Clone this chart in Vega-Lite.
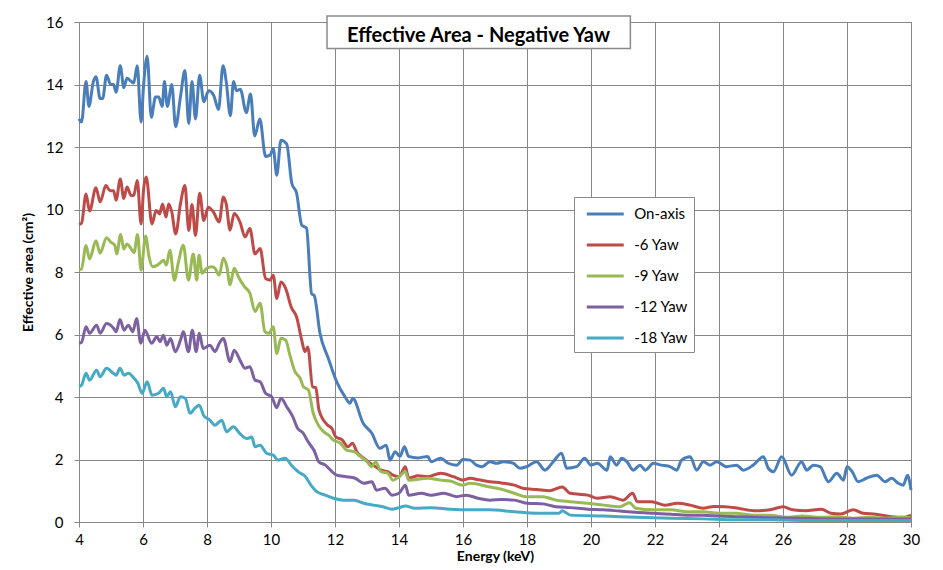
{
"$schema": "https://vega.github.io/schema/vega-lite/v6.json",
"width": 832, "height": 500,
"autosize": {"type": "none"},
"padding": {"left": 79, "top": 22, "right": 32, "bottom": 48},
"background": "white",
"config": {"view": {"stroke": "#878787", "strokeWidth": 1}, "font": "Lato"},
"title": {"text": "Effective Area - Negative Yaw", "anchor": "middle", "frame": "group", "orient": "top", "offset": -31, "dx": -16.5, "fontSize": 20, "font": "Lato", "fontWeight": "bold", "color": "black"},
"layer": [
{
"data": {"values": [{}]},
"mark": {"type": "rect", "fill": "white", "stroke": "#8a8a8a", "strokeWidth": 1.5},
"encoding": {
"x": {"datum": 11.75, "type": "quantitative", "title": "Energy (keV)"},
"x2": {"datum": 21.23},
"y": {"datum": 16.19, "type": "quantitative", "title": "Effective area (cm²)"},
"y2": {"datum": 15.15}
}
},
{
"data": {"values": [
{"s":"On-axis","e":4.0,"v":12.9},{"s":"On-axis","e":4.08,"v":12.8},{"s":"On-axis","e":4.22,"v":14.1},{"s":"On-axis","e":4.31,"v":13.3},{"s":"On-axis","e":4.45,"v":14.1},{"s":"On-axis","e":4.53,"v":14.25},{"s":"On-axis","e":4.66,"v":13.55},{"s":"On-axis","e":4.74,"v":13.55},{"s":"On-axis","e":4.86,"v":14.3},{"s":"On-axis","e":4.99,"v":14.0},{"s":"On-axis","e":5.08,"v":14.0},{"s":"On-axis","e":5.16,"v":13.75},{"s":"On-axis","e":5.29,"v":14.6},{"s":"On-axis","e":5.4,"v":13.9},{"s":"On-axis","e":5.5,"v":14.2},{"s":"On-axis","e":5.63,"v":14.1},{"s":"On-axis","e":5.71,"v":14.05},{"s":"On-axis","e":5.82,"v":14.6},{"s":"On-axis","e":5.94,"v":12.8},{"s":"On-axis","e":6.02,"v":14.0},{"s":"On-axis","e":6.13,"v":14.9},{"s":"On-axis","e":6.26,"v":12.95},{"s":"On-axis","e":6.39,"v":13.6},{"s":"On-axis","e":6.49,"v":13.6},{"s":"On-axis","e":6.6,"v":13.3},{"s":"On-axis","e":6.67,"v":14.1},{"s":"On-axis","e":6.76,"v":13.3},{"s":"On-axis","e":6.9,"v":14.0},{"s":"On-axis","e":7.02,"v":12.65},{"s":"On-axis","e":7.17,"v":13.6},{"s":"On-axis","e":7.31,"v":14.45},{"s":"On-axis","e":7.43,"v":12.75},{"s":"On-axis","e":7.53,"v":14.1},{"s":"On-axis","e":7.64,"v":12.9},{"s":"On-axis","e":7.77,"v":14.3},{"s":"On-axis","e":7.9,"v":13.45},{"s":"On-axis","e":8.05,"v":13.8},{"s":"On-axis","e":8.21,"v":13.65},{"s":"On-axis","e":8.36,"v":13.2},{"s":"On-axis","e":8.5,"v":14.6},{"s":"On-axis","e":8.6,"v":14.1},{"s":"On-axis","e":8.73,"v":13.0},{"s":"On-axis","e":8.83,"v":14.1},{"s":"On-axis","e":8.92,"v":13.8},{"s":"On-axis","e":9.04,"v":13.85},{"s":"On-axis","e":9.23,"v":13.1},{"s":"On-axis","e":9.36,"v":13.7},{"s":"On-axis","e":9.49,"v":12.35},{"s":"On-axis","e":9.65,"v":12.9},{"s":"On-axis","e":9.83,"v":11.7},{"s":"On-axis","e":9.97,"v":11.74},{"s":"On-axis","e":10.07,"v":11.95},{"s":"On-axis","e":10.18,"v":11.1},{"s":"On-axis","e":10.31,"v":12.22},{"s":"On-axis","e":10.49,"v":12.1},{"s":"On-axis","e":10.65,"v":10.84},{"s":"On-axis","e":10.8,"v":10.52},{"s":"On-axis","e":10.96,"v":9.5},{"s":"On-axis","e":11.11,"v":9.4},{"s":"On-axis","e":11.27,"v":7.3},{"s":"On-axis","e":11.35,"v":7.25},{"s":"On-axis","e":11.53,"v":6.04},{"s":"On-axis","e":11.79,"v":5.24},{"s":"On-axis","e":12.05,"v":4.49},{"s":"On-axis","e":12.31,"v":4.01},{"s":"On-axis","e":12.47,"v":3.8},{"s":"On-axis","e":12.55,"v":3.96},{"s":"On-axis","e":12.88,"v":3.16},{"s":"On-axis","e":13.15,"v":2.84},{"s":"On-axis","e":13.4,"v":2.36},{"s":"On-axis","e":13.6,"v":2.46},{"s":"On-axis","e":13.72,"v":1.98},{"s":"On-axis","e":13.88,"v":2.25},{"s":"On-axis","e":14.03,"v":2.1},{"s":"On-axis","e":14.17,"v":2.41},{"s":"On-axis","e":14.3,"v":2.1},{"s":"On-axis","e":14.6,"v":2.05},{"s":"On-axis","e":14.9,"v":2.1},{"s":"On-axis","e":15.0,"v":1.93},{"s":"On-axis","e":15.3,"v":2.04},{"s":"On-axis","e":15.54,"v":1.88},{"s":"On-axis","e":15.8,"v":1.82},{"s":"On-axis","e":16.0,"v":2.0},{"s":"On-axis","e":16.22,"v":1.98},{"s":"On-axis","e":16.42,"v":1.82},{"s":"On-axis","e":16.6,"v":1.77},{"s":"On-axis","e":16.84,"v":1.93},{"s":"On-axis","e":17.05,"v":1.88},{"s":"On-axis","e":17.26,"v":1.93},{"s":"On-axis","e":17.57,"v":1.88},{"s":"On-axis","e":17.78,"v":1.72},{"s":"On-axis","e":17.99,"v":1.77},{"s":"On-axis","e":18.3,"v":1.93},{"s":"On-axis","e":18.56,"v":1.66},{"s":"On-axis","e":18.82,"v":1.93},{"s":"On-axis","e":19.08,"v":2.2},{"s":"On-axis","e":19.24,"v":1.72},{"s":"On-axis","e":19.55,"v":1.77},{"s":"On-axis","e":19.8,"v":2.04},{"s":"On-axis","e":20.0,"v":1.82},{"s":"On-axis","e":20.2,"v":1.88},{"s":"On-axis","e":20.5,"v":1.66},{"s":"On-axis","e":20.6,"v":2.09},{"s":"On-axis","e":20.8,"v":1.82},{"s":"On-axis","e":20.96,"v":2.04},{"s":"On-axis","e":21.12,"v":1.93},{"s":"On-axis","e":21.32,"v":1.66},{"s":"On-axis","e":21.53,"v":1.82},{"s":"On-axis","e":21.7,"v":1.66},{"s":"On-axis","e":21.95,"v":1.88},{"s":"On-axis","e":22.2,"v":1.82},{"s":"On-axis","e":22.47,"v":1.77},{"s":"On-axis","e":22.68,"v":1.66},{"s":"On-axis","e":22.83,"v":1.98},{"s":"On-axis","e":23.1,"v":2.09},{"s":"On-axis","e":23.3,"v":1.66},{"s":"On-axis","e":23.51,"v":1.93},{"s":"On-axis","e":23.72,"v":1.82},{"s":"On-axis","e":23.93,"v":1.93},{"s":"On-axis","e":24.24,"v":1.77},{"s":"On-axis","e":24.55,"v":1.82},{"s":"On-axis","e":24.76,"v":1.66},{"s":"On-axis","e":25.07,"v":1.82},{"s":"On-axis","e":25.39,"v":2.09},{"s":"On-axis","e":25.54,"v":1.72},{"s":"On-axis","e":25.7,"v":1.61},{"s":"On-axis","e":25.96,"v":2.09},{"s":"On-axis","e":26.27,"v":1.5},{"s":"On-axis","e":26.58,"v":1.93},{"s":"On-axis","e":26.74,"v":1.66},{"s":"On-axis","e":26.95,"v":1.82},{"s":"On-axis","e":27.16,"v":1.77},{"s":"On-axis","e":27.42,"v":1.29},{"s":"On-axis","e":27.68,"v":1.56},{"s":"On-axis","e":27.89,"v":1.34},{"s":"On-axis","e":28.0,"v":1.77},{"s":"On-axis","e":28.16,"v":1.61},{"s":"On-axis","e":28.35,"v":1.29},{"s":"On-axis","e":28.61,"v":1.4},{"s":"On-axis","e":28.93,"v":1.5},{"s":"On-axis","e":29.19,"v":1.29},{"s":"On-axis","e":29.4,"v":1.4},{"s":"On-axis","e":29.6,"v":1.24},{"s":"On-axis","e":29.76,"v":1.18},{"s":"On-axis","e":29.89,"v":1.5},{"s":"On-axis","e":30.0,"v":1.02},
{"s":"-6 Yaw","e":4.0,"v":9.52},{"s":"-6 Yaw","e":4.08,"v":9.56},{"s":"-6 Yaw","e":4.22,"v":10.5},{"s":"-6 Yaw","e":4.33,"v":9.95},{"s":"-6 Yaw","e":4.53,"v":10.7},{"s":"-6 Yaw","e":4.66,"v":10.24},{"s":"-6 Yaw","e":4.84,"v":10.77},{"s":"-6 Yaw","e":4.97,"v":10.6},{"s":"-6 Yaw","e":5.08,"v":10.6},{"s":"-6 Yaw","e":5.16,"v":10.3},{"s":"-6 Yaw","e":5.29,"v":10.98},{"s":"-6 Yaw","e":5.4,"v":10.35},{"s":"-6 Yaw","e":5.5,"v":10.72},{"s":"-6 Yaw","e":5.63,"v":10.45},{"s":"-6 Yaw","e":5.71,"v":10.45},{"s":"-6 Yaw","e":5.82,"v":10.93},{"s":"-6 Yaw","e":5.94,"v":9.54},{"s":"-6 Yaw","e":6.02,"v":10.66},{"s":"-6 Yaw","e":6.1,"v":11.04},{"s":"-6 Yaw","e":6.28,"v":9.54},{"s":"-6 Yaw","e":6.41,"v":9.97},{"s":"-6 Yaw","e":6.52,"v":9.86},{"s":"-6 Yaw","e":6.61,"v":10.18},{"s":"-6 Yaw","e":6.72,"v":9.76},{"s":"-6 Yaw","e":6.8,"v":10.18},{"s":"-6 Yaw","e":6.9,"v":9.92},{"s":"-6 Yaw","e":7.02,"v":9.22},{"s":"-6 Yaw","e":7.17,"v":10.18},{"s":"-6 Yaw","e":7.31,"v":10.77},{"s":"-6 Yaw","e":7.43,"v":9.33},{"s":"-6 Yaw","e":7.53,"v":10.16},{"s":"-6 Yaw","e":7.64,"v":9.17},{"s":"-6 Yaw","e":7.77,"v":10.52},{"s":"-6 Yaw","e":7.9,"v":9.65},{"s":"-6 Yaw","e":8.04,"v":10.07},{"s":"-6 Yaw","e":8.2,"v":9.92},{"s":"-6 Yaw","e":8.38,"v":9.6},{"s":"-6 Yaw","e":8.51,"v":10.4},{"s":"-6 Yaw","e":8.6,"v":10.18},{"s":"-6 Yaw","e":8.72,"v":9.34},{"s":"-6 Yaw","e":8.85,"v":9.87},{"s":"-6 Yaw","e":9.03,"v":9.6},{"s":"-6 Yaw","e":9.19,"v":9.12},{"s":"-6 Yaw","e":9.34,"v":9.39},{"s":"-6 Yaw","e":9.5,"v":8.58},{"s":"-6 Yaw","e":9.66,"v":8.75},{"s":"-6 Yaw","e":9.83,"v":7.79},{"s":"-6 Yaw","e":9.97,"v":7.74},{"s":"-6 Yaw","e":10.07,"v":7.9},{"s":"-6 Yaw","e":10.18,"v":7.15},{"s":"-6 Yaw","e":10.31,"v":7.68},{"s":"-6 Yaw","e":10.46,"v":7.47},{"s":"-6 Yaw","e":10.63,"v":6.88},{"s":"-6 Yaw","e":10.8,"v":6.56},{"s":"-6 Yaw","e":10.96,"v":5.82},{"s":"-6 Yaw","e":11.06,"v":5.45},{"s":"-6 Yaw","e":11.15,"v":5.6},{"s":"-6 Yaw","e":11.3,"v":4.33},{"s":"-6 Yaw","e":11.4,"v":4.3},{"s":"-6 Yaw","e":11.5,"v":3.58},{"s":"-6 Yaw","e":11.77,"v":3.1},{"s":"-6 Yaw","e":11.9,"v":3.0},{"s":"-6 Yaw","e":12.02,"v":2.73},{"s":"-6 Yaw","e":12.23,"v":2.62},{"s":"-6 Yaw","e":12.4,"v":2.41},{"s":"-6 Yaw","e":12.55,"v":2.52},{"s":"-6 Yaw","e":12.68,"v":2.25},{"s":"-6 Yaw","e":12.9,"v":2.04},{"s":"-6 Yaw","e":13.1,"v":1.88},{"s":"-6 Yaw","e":13.27,"v":1.77},{"s":"-6 Yaw","e":13.44,"v":1.66},{"s":"-6 Yaw","e":13.65,"v":1.61},{"s":"-6 Yaw","e":13.81,"v":1.5},{"s":"-6 Yaw","e":14.0,"v":1.45},{"s":"-6 Yaw","e":14.2,"v":1.77},{"s":"-6 Yaw","e":14.3,"v":1.4},{"s":"-6 Yaw","e":14.6,"v":1.48},{"s":"-6 Yaw","e":14.9,"v":1.45},{"s":"-6 Yaw","e":15.3,"v":1.56},{"s":"-6 Yaw","e":15.7,"v":1.45},{"s":"-6 Yaw","e":16.0,"v":1.34},{"s":"-6 Yaw","e":16.22,"v":1.4},{"s":"-6 Yaw","e":16.5,"v":1.35},{"s":"-6 Yaw","e":16.84,"v":1.29},{"s":"-6 Yaw","e":17.2,"v":1.25},{"s":"-6 Yaw","e":17.6,"v":1.18},{"s":"-6 Yaw","e":17.9,"v":1.07},{"s":"-6 Yaw","e":18.3,"v":1.04},{"s":"-6 Yaw","e":18.7,"v":1.0},{"s":"-6 Yaw","e":19.1,"v":1.12},{"s":"-6 Yaw","e":19.35,"v":0.92},{"s":"-6 Yaw","e":19.9,"v":0.86},{"s":"-6 Yaw","e":20.2,"v":0.76},{"s":"-6 Yaw","e":20.6,"v":0.81},{"s":"-6 Yaw","e":21.0,"v":0.7},{"s":"-6 Yaw","e":21.3,"v":0.92},{"s":"-6 Yaw","e":21.45,"v":0.65},{"s":"-6 Yaw","e":21.9,"v":0.65},{"s":"-6 Yaw","e":22.3,"v":0.54},{"s":"-6 Yaw","e":22.7,"v":0.6},{"s":"-6 Yaw","e":23.1,"v":0.54},{"s":"-6 Yaw","e":23.5,"v":0.44},{"s":"-6 Yaw","e":23.85,"v":0.5},{"s":"-6 Yaw","e":24.2,"v":0.49},{"s":"-6 Yaw","e":24.6,"v":0.44},{"s":"-6 Yaw","e":25.1,"v":0.36},{"s":"-6 Yaw","e":25.6,"v":0.39},{"s":"-6 Yaw","e":26.0,"v":0.49},{"s":"-6 Yaw","e":26.3,"v":0.39},{"s":"-6 Yaw","e":26.7,"v":0.36},{"s":"-6 Yaw","e":27.2,"v":0.41},{"s":"-6 Yaw","e":27.5,"v":0.28},{"s":"-6 Yaw","e":27.8,"v":0.26},{"s":"-6 Yaw","e":28.2,"v":0.39},{"s":"-6 Yaw","e":28.5,"v":0.28},{"s":"-6 Yaw","e":28.9,"v":0.25},{"s":"-6 Yaw","e":29.4,"v":0.17},{"s":"-6 Yaw","e":29.8,"v":0.15},{"s":"-6 Yaw","e":30.0,"v":0.22},
{"s":"-9 Yaw","e":4.0,"v":8.07},{"s":"-9 Yaw","e":4.08,"v":8.1},{"s":"-9 Yaw","e":4.22,"v":8.85},{"s":"-9 Yaw","e":4.33,"v":8.42},{"s":"-9 Yaw","e":4.53,"v":9.0},{"s":"-9 Yaw","e":4.66,"v":8.6},{"s":"-9 Yaw","e":4.86,"v":9.1},{"s":"-9 Yaw","e":4.99,"v":8.96},{"s":"-9 Yaw","e":5.12,"v":8.85},{"s":"-9 Yaw","e":5.18,"v":8.58},{"s":"-9 Yaw","e":5.3,"v":9.2},{"s":"-9 Yaw","e":5.4,"v":8.74},{"s":"-9 Yaw","e":5.5,"v":8.9},{"s":"-9 Yaw","e":5.63,"v":8.74},{"s":"-9 Yaw","e":5.72,"v":8.62},{"s":"-9 Yaw","e":5.83,"v":9.2},{"s":"-9 Yaw","e":5.94,"v":8.06},{"s":"-9 Yaw","e":6.08,"v":9.15},{"s":"-9 Yaw","e":6.19,"v":8.48},{"s":"-9 Yaw","e":6.3,"v":8.17},{"s":"-9 Yaw","e":6.45,"v":8.22},{"s":"-9 Yaw","e":6.55,"v":8.3},{"s":"-9 Yaw","e":6.64,"v":8.38},{"s":"-9 Yaw","e":6.73,"v":8.22},{"s":"-9 Yaw","e":6.84,"v":8.7},{"s":"-9 Yaw","e":6.98,"v":7.74},{"s":"-9 Yaw","e":7.1,"v":8.28},{"s":"-9 Yaw","e":7.26,"v":8.86},{"s":"-9 Yaw","e":7.42,"v":7.74},{"s":"-9 Yaw","e":7.57,"v":8.58},{"s":"-9 Yaw","e":7.68,"v":7.74},{"s":"-9 Yaw","e":7.75,"v":8.54},{"s":"-9 Yaw","e":7.85,"v":7.96},{"s":"-9 Yaw","e":7.99,"v":8.12},{"s":"-9 Yaw","e":8.15,"v":8.17},{"s":"-9 Yaw","e":8.25,"v":8.12},{"s":"-9 Yaw","e":8.38,"v":7.9},{"s":"-9 Yaw","e":8.51,"v":8.44},{"s":"-9 Yaw","e":8.62,"v":8.17},{"s":"-9 Yaw","e":8.72,"v":7.59},{"s":"-9 Yaw","e":8.85,"v":8.12},{"s":"-9 Yaw","e":8.98,"v":7.85},{"s":"-9 Yaw","e":9.17,"v":7.53},{"s":"-9 Yaw","e":9.34,"v":7.32},{"s":"-9 Yaw","e":9.5,"v":6.74},{"s":"-9 Yaw","e":9.66,"v":7.0},{"s":"-9 Yaw","e":9.81,"v":6.09},{"s":"-9 Yaw","e":9.94,"v":6.04},{"s":"-9 Yaw","e":10.07,"v":6.25},{"s":"-9 Yaw","e":10.18,"v":5.39},{"s":"-9 Yaw","e":10.31,"v":5.88},{"s":"-9 Yaw","e":10.46,"v":5.82},{"s":"-9 Yaw","e":10.59,"v":5.34},{"s":"-9 Yaw","e":10.75,"v":4.81},{"s":"-9 Yaw","e":10.91,"v":4.6},{"s":"-9 Yaw","e":11.01,"v":4.33},{"s":"-9 Yaw","e":11.17,"v":4.22},{"s":"-9 Yaw","e":11.32,"v":3.48},{"s":"-9 Yaw","e":11.48,"v":3.1},{"s":"-9 Yaw","e":11.64,"v":2.89},{"s":"-9 Yaw","e":11.8,"v":2.78},{"s":"-9 Yaw","e":11.95,"v":2.62},{"s":"-9 Yaw","e":12.17,"v":2.52},{"s":"-9 Yaw","e":12.36,"v":2.3},{"s":"-9 Yaw","e":12.6,"v":2.25},{"s":"-9 Yaw","e":12.8,"v":2.09},{"s":"-9 Yaw","e":13.0,"v":1.93},{"s":"-9 Yaw","e":13.15,"v":1.77},{"s":"-9 Yaw","e":13.27,"v":1.93},{"s":"-9 Yaw","e":13.44,"v":1.61},{"s":"-9 Yaw","e":13.65,"v":1.56},{"s":"-9 Yaw","e":13.81,"v":1.34},{"s":"-9 Yaw","e":14.0,"v":1.45},{"s":"-9 Yaw","e":14.2,"v":1.61},{"s":"-9 Yaw","e":14.3,"v":1.34},{"s":"-9 Yaw","e":14.9,"v":1.4},{"s":"-9 Yaw","e":15.3,"v":1.34},{"s":"-9 Yaw","e":15.6,"v":1.31},{"s":"-9 Yaw","e":16.0,"v":1.18},{"s":"-9 Yaw","e":16.22,"v":1.24},{"s":"-9 Yaw","e":16.84,"v":1.12},{"s":"-9 Yaw","e":17.2,"v":1.05},{"s":"-9 Yaw","e":17.6,"v":0.92},{"s":"-9 Yaw","e":18.0,"v":0.81},{"s":"-9 Yaw","e":18.5,"v":0.81},{"s":"-9 Yaw","e":18.9,"v":0.7},{"s":"-9 Yaw","e":19.35,"v":0.65},{"s":"-9 Yaw","e":19.9,"v":0.6},{"s":"-9 Yaw","e":20.4,"v":0.54},{"s":"-9 Yaw","e":20.9,"v":0.49},{"s":"-9 Yaw","e":21.2,"v":0.62},{"s":"-9 Yaw","e":21.4,"v":0.44},{"s":"-9 Yaw","e":21.95,"v":0.39},{"s":"-9 Yaw","e":22.5,"v":0.39},{"s":"-9 Yaw","e":23.0,"v":0.33},{"s":"-9 Yaw","e":23.5,"v":0.33},{"s":"-9 Yaw","e":24.0,"v":0.28},{"s":"-9 Yaw","e":24.5,"v":0.28},{"s":"-9 Yaw","e":25.1,"v":0.22},{"s":"-9 Yaw","e":25.6,"v":0.22},{"s":"-9 Yaw","e":26.1,"v":0.15},{"s":"-9 Yaw","e":26.6,"v":0.19},{"s":"-9 Yaw","e":27.2,"v":0.15},{"s":"-9 Yaw","e":27.7,"v":0.17},{"s":"-9 Yaw","e":28.2,"v":0.12},{"s":"-9 Yaw","e":28.7,"v":0.15},{"s":"-9 Yaw","e":29.2,"v":0.12},{"s":"-9 Yaw","e":29.7,"v":0.15},{"s":"-9 Yaw","e":30.0,"v":0.14},
{"s":"-12 Yaw","e":4.0,"v":5.72},{"s":"-12 Yaw","e":4.08,"v":5.75},{"s":"-12 Yaw","e":4.22,"v":6.25},{"s":"-12 Yaw","e":4.33,"v":6.04},{"s":"-12 Yaw","e":4.55,"v":6.3},{"s":"-12 Yaw","e":4.66,"v":6.04},{"s":"-12 Yaw","e":4.86,"v":6.35},{"s":"-12 Yaw","e":5.08,"v":6.2},{"s":"-12 Yaw","e":5.16,"v":6.09},{"s":"-12 Yaw","e":5.28,"v":6.48},{"s":"-12 Yaw","e":5.41,"v":6.14},{"s":"-12 Yaw","e":5.54,"v":6.3},{"s":"-12 Yaw","e":5.68,"v":6.09},{"s":"-12 Yaw","e":5.8,"v":6.51},{"s":"-12 Yaw","e":5.93,"v":5.72},{"s":"-12 Yaw","e":6.06,"v":6.14},{"s":"-12 Yaw","e":6.27,"v":5.72},{"s":"-12 Yaw","e":6.43,"v":5.93},{"s":"-12 Yaw","e":6.53,"v":5.77},{"s":"-12 Yaw","e":6.64,"v":5.98},{"s":"-12 Yaw","e":6.74,"v":5.66},{"s":"-12 Yaw","e":6.86,"v":5.87},{"s":"-12 Yaw","e":7.01,"v":5.45},{"s":"-12 Yaw","e":7.17,"v":5.82},{"s":"-12 Yaw","e":7.26,"v":6.09},{"s":"-12 Yaw","e":7.42,"v":5.45},{"s":"-12 Yaw","e":7.54,"v":6.14},{"s":"-12 Yaw","e":7.66,"v":5.45},{"s":"-12 Yaw","e":7.76,"v":6.04},{"s":"-12 Yaw","e":7.88,"v":5.55},{"s":"-12 Yaw","e":8.09,"v":5.66},{"s":"-12 Yaw","e":8.25,"v":5.45},{"s":"-12 Yaw","e":8.38,"v":5.71},{"s":"-12 Yaw","e":8.51,"v":5.87},{"s":"-12 Yaw","e":8.72,"v":5.13},{"s":"-12 Yaw","e":8.85,"v":5.5},{"s":"-12 Yaw","e":9.03,"v":5.18},{"s":"-12 Yaw","e":9.19,"v":4.92},{"s":"-12 Yaw","e":9.34,"v":4.97},{"s":"-12 Yaw","e":9.5,"v":4.54},{"s":"-12 Yaw","e":9.66,"v":4.49},{"s":"-12 Yaw","e":9.83,"v":4.12},{"s":"-12 Yaw","e":10.02,"v":4.01},{"s":"-12 Yaw","e":10.18,"v":3.66},{"s":"-12 Yaw","e":10.31,"v":3.96},{"s":"-12 Yaw","e":10.49,"v":3.69},{"s":"-12 Yaw","e":10.68,"v":3.37},{"s":"-12 Yaw","e":10.83,"v":3.0},{"s":"-12 Yaw","e":11.0,"v":2.85},{"s":"-12 Yaw","e":11.17,"v":2.55},{"s":"-12 Yaw","e":11.35,"v":2.28},{"s":"-12 Yaw","e":11.49,"v":1.93},{"s":"-12 Yaw","e":11.7,"v":1.82},{"s":"-12 Yaw","e":11.86,"v":1.66},{"s":"-12 Yaw","e":12.05,"v":1.5},{"s":"-12 Yaw","e":12.36,"v":1.45},{"s":"-12 Yaw","e":12.63,"v":1.4},{"s":"-12 Yaw","e":12.9,"v":1.24},{"s":"-12 Yaw","e":13.15,"v":1.29},{"s":"-12 Yaw","e":13.3,"v":1.02},{"s":"-12 Yaw","e":13.56,"v":1.08},{"s":"-12 Yaw","e":13.78,"v":0.86},{"s":"-12 Yaw","e":14.0,"v":0.92},{"s":"-12 Yaw","e":14.2,"v":1.18},{"s":"-12 Yaw","e":14.3,"v":0.86},{"s":"-12 Yaw","e":14.7,"v":0.92},{"s":"-12 Yaw","e":15.0,"v":0.86},{"s":"-12 Yaw","e":15.4,"v":0.92},{"s":"-12 Yaw","e":15.8,"v":0.81},{"s":"-12 Yaw","e":16.1,"v":0.86},{"s":"-12 Yaw","e":16.5,"v":0.75},{"s":"-12 Yaw","e":16.84,"v":0.7},{"s":"-12 Yaw","e":17.2,"v":0.72},{"s":"-12 Yaw","e":17.6,"v":0.7},{"s":"-12 Yaw","e":18.0,"v":0.6},{"s":"-12 Yaw","e":18.5,"v":0.58},{"s":"-12 Yaw","e":18.9,"v":0.49},{"s":"-12 Yaw","e":19.35,"v":0.46},{"s":"-12 Yaw","e":19.9,"v":0.41},{"s":"-12 Yaw","e":20.4,"v":0.39},{"s":"-12 Yaw","e":20.9,"v":0.35},{"s":"-12 Yaw","e":21.4,"v":0.31},{"s":"-12 Yaw","e":21.95,"v":0.28},{"s":"-12 Yaw","e":22.5,"v":0.25},{"s":"-12 Yaw","e":23.0,"v":0.22},{"s":"-12 Yaw","e":23.5,"v":0.22},{"s":"-12 Yaw","e":24.0,"v":0.19},{"s":"-12 Yaw","e":24.55,"v":0.17},{"s":"-12 Yaw","e":25.1,"v":0.15},{"s":"-12 Yaw","e":25.6,"v":0.14},{"s":"-12 Yaw","e":26.6,"v":0.12},{"s":"-12 Yaw","e":27.6,"v":0.1},{"s":"-12 Yaw","e":28.6,"v":0.1},{"s":"-12 Yaw","e":30.0,"v":0.1},
{"s":"-18 Yaw","e":4.0,"v":4.33},{"s":"-18 Yaw","e":4.08,"v":4.38},{"s":"-18 Yaw","e":4.22,"v":4.76},{"s":"-18 Yaw","e":4.33,"v":4.54},{"s":"-18 Yaw","e":4.55,"v":4.86},{"s":"-18 Yaw","e":4.66,"v":4.65},{"s":"-18 Yaw","e":4.86,"v":4.92},{"s":"-18 Yaw","e":5.07,"v":4.76},{"s":"-18 Yaw","e":5.16,"v":4.7},{"s":"-18 Yaw","e":5.28,"v":4.92},{"s":"-18 Yaw","e":5.41,"v":4.7},{"s":"-18 Yaw","e":5.54,"v":4.76},{"s":"-18 Yaw","e":5.72,"v":4.6},{"s":"-18 Yaw","e":5.84,"v":4.44},{"s":"-18 Yaw","e":5.97,"v":4.12},{"s":"-18 Yaw","e":6.13,"v":4.49},{"s":"-18 Yaw","e":6.28,"v":4.06},{"s":"-18 Yaw","e":6.49,"v":4.12},{"s":"-18 Yaw","e":6.64,"v":4.28},{"s":"-18 Yaw","e":6.74,"v":4.01},{"s":"-18 Yaw","e":6.86,"v":4.17},{"s":"-18 Yaw","e":7.01,"v":3.69},{"s":"-18 Yaw","e":7.17,"v":4.01},{"s":"-18 Yaw","e":7.32,"v":3.96},{"s":"-18 Yaw","e":7.47,"v":3.48},{"s":"-18 Yaw","e":7.63,"v":3.65},{"s":"-18 Yaw","e":7.76,"v":3.74},{"s":"-18 Yaw","e":7.9,"v":3.4},{"s":"-18 Yaw","e":8.09,"v":3.26},{"s":"-18 Yaw","e":8.25,"v":3.1},{"s":"-18 Yaw","e":8.46,"v":3.26},{"s":"-18 Yaw","e":8.61,"v":2.89},{"s":"-18 Yaw","e":8.82,"v":3.05},{"s":"-18 Yaw","e":9.03,"v":2.83},{"s":"-18 Yaw","e":9.24,"v":2.67},{"s":"-18 Yaw","e":9.4,"v":2.72},{"s":"-18 Yaw","e":9.5,"v":2.41},{"s":"-18 Yaw","e":9.66,"v":2.46},{"s":"-18 Yaw","e":9.86,"v":2.2},{"s":"-18 Yaw","e":10.07,"v":2.14},{"s":"-18 Yaw","e":10.23,"v":1.98},{"s":"-18 Yaw","e":10.44,"v":2.04},{"s":"-18 Yaw","e":10.65,"v":1.8},{"s":"-18 Yaw","e":10.86,"v":1.6},{"s":"-18 Yaw","e":11.06,"v":1.47},{"s":"-18 Yaw","e":11.27,"v":1.15},{"s":"-18 Yaw","e":11.43,"v":0.97},{"s":"-18 Yaw","e":11.7,"v":0.86},{"s":"-18 Yaw","e":11.95,"v":0.76},{"s":"-18 Yaw","e":12.27,"v":0.7},{"s":"-18 Yaw","e":12.6,"v":0.7},{"s":"-18 Yaw","e":12.9,"v":0.6},{"s":"-18 Yaw","e":13.2,"v":0.54},{"s":"-18 Yaw","e":13.5,"v":0.49},{"s":"-18 Yaw","e":13.78,"v":0.41},{"s":"-18 Yaw","e":14.0,"v":0.46},{"s":"-18 Yaw","e":14.2,"v":0.51},{"s":"-18 Yaw","e":14.5,"v":0.44},{"s":"-18 Yaw","e":15.0,"v":0.46},{"s":"-18 Yaw","e":15.6,"v":0.41},{"s":"-18 Yaw","e":16.1,"v":0.39},{"s":"-18 Yaw","e":16.8,"v":0.39},{"s":"-18 Yaw","e":17.6,"v":0.33},{"s":"-18 Yaw","e":18.3,"v":0.28},{"s":"-18 Yaw","e":19.0,"v":0.28},{"s":"-18 Yaw","e":19.1,"v":0.36},{"s":"-18 Yaw","e":19.35,"v":0.22},{"s":"-18 Yaw","e":20.4,"v":0.19},{"s":"-18 Yaw","e":21.4,"v":0.15},{"s":"-18 Yaw","e":22.5,"v":0.12},{"s":"-18 Yaw","e":23.5,"v":0.1},{"s":"-18 Yaw","e":24.55,"v":0.07},{"s":"-18 Yaw","e":25.6,"v":0.07},{"s":"-18 Yaw","e":26.6,"v":0.05},{"s":"-18 Yaw","e":28.0,"v":0.05},{"s":"-18 Yaw","e":30.0,"v":0.05}
]},
"mark": {"type": "line", "strokeWidth": 3, "strokeJoin": "round", "interpolate": "monotone"},
"encoding": {
"x": {"field": "e", "type": "quantitative", "title": "Energy (keV)",
"scale": {"domain": [4, 30], "nice": false, "zero": false},
"axis": {"values": [4,6,8,10,12,14,16,18,20,22,24,26,28,30], "grid": true, "gridColor": "#878787", "gridWidth": 1, "domainColor": "#878787", "tickColor": "#878787", "tickSize": 5, "labelFlush": false, "labelFont": "Lato", "labelFontSize": 15, "labelColor": "black", "labelPadding": 5, "titleFont": "Lato", "titleFontSize": 14, "titleFontWeight": "bold", "titleColor": "black", "titlePadding": 2}},
"y": {"field": "v", "type": "quantitative", "title": "Effective area (cm²)",
"scale": {"domain": [0, 16], "nice": false},
"axis": {"values": [0,2,4,6,8,10,12,14,16], "grid": true, "gridColor": "#878787", "gridWidth": 1, "domainColor": "#878787", "tickColor": "#878787", "tickSize": 5, "labelFont": "Lato", "labelFontSize": 15, "labelColor": "black", "labelPadding": 11, "titleFont": "Lato", "titleFontSize": 14, "titleFontWeight": "bold", "titleColor": "black", "titlePadding": 10}},
"color": {"field": "s", "type": "nominal",
"scale": {"domain": ["On-axis", "-6 Yaw", "-9 Yaw", "-12 Yaw", "-18 Yaw"], "range": ["#4A7EBB", "#BE4B48", "#98B954", "#7D60A0", "#46AAC5"]},
"legend": {"orient": "none", "legendX": 495, "legendY": 175, "title": null, "fillColor": "white", "strokeColor": "#8a8a8a", "padding": 6, "symbolType": "M-2,0H2", "symbolSize": 342, "symbolOffset": 14.25, "symbolStrokeWidth": 3, "labelFont": "Lato", "labelFontSize": 15, "labelColor": "black", "labelOffset": 18, "rowPadding": 12}}
}
}
]
}
